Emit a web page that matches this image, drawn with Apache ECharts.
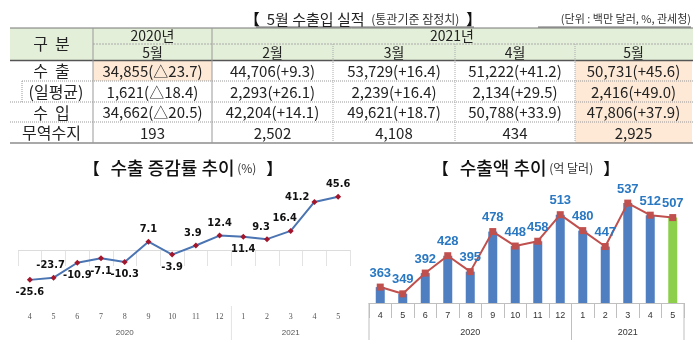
<!DOCTYPE html>
<html><head><meta charset="utf-8">
<script src="https://cdn.jsdelivr.net/npm/echarts@6/dist/echarts.min.js"></script>
<style>html,body{margin:0;padding:0;background:#fff}#c{width:698px;height:344px}</style>
</head><body><div id="c"></div>
<script>
// ---------- data ----------
const tableTitle = '5월 수출입 실적';
const tableSub = '(통관기준 잠정치)';
const unitText = '(단위 : 백만 달러, %, 관세청)';
const yearHeaders = ['2020년', '2021년'];
const monthHeaders = ['5월', '2월', '3월', '4월', '5월'];
const rowLabels = ['수  출', '(일평균)', '수  입', '무역수지'];
const exportRow = ['34,855(△23.7)', '44,706(+9.3)', '53,729(+16.4)', '51,222(+41.2)', '50,731(+45.6)'];
const dailyRow = ['1,621(△18.4)', '2,293(+26.1)', '2,239(+16.4)', '2,134(+29.5)', '2,416(+49.0)'];
const importRow = ['34,662(△20.5)', '42,204(+14.1)', '49,621(+18.7)', '50,788(+33.9)', '47,806(+37.9)'];
const balanceRow = ['193', '2,502', '4,108', '434', '2,925'];

const months = ['4', '5', '6', '7', '8', '9', '10', '11', '12', '1', '2', '3', '4', '5'];
const yearLabels = ['2020', '2021'];
const yearStart = [0, 9];           // first month index of each year
const growthRate = [-25.6, -23.7, -10.9, -7.1, -10.3, 7.1, -3.9, 3.9, 12.4, 11.4, 9.3, 16.4, 41.2, 45.6];
const exportAmount = [363, 349, 392, 428, 395, 478, 448, 458, 513, 480, 447, 537, 512, 507];

// label placement (style, not data)
const growthLabelPos = ['bottom','top','bottom','bottom','bottom','top','bottom','top','top','bottom','top','top','left','top'];
const growthLabelOff = [[0,0],[-3,0],[0,0],[0,0],[0,0],[0,0],[0,0],[-3,0],[0,0],[0,0],[-6,0],[-6,0],[2,-5],[0,0]];

// ---------- table graphics ----------
const KR = '"Noto Sans CJK KR", "Noto Sans", sans-serif';
const colX = [10, 93, 212, 333, 455, 575, 692];
const rowY = [60, 81, 102, 122, 143];
const g = [];
function rect(x, y, w, h, fill) { g.push({type:'rect', silent:true, shape:{x, y, width:w, height:h}, style:{fill}, z:1}); }
function line(x1, y1, x2, y2, stroke, lw, dash) { g.push({type:'line', silent:true, shape:{x1, y1, x2, y2}, style:{stroke, lineWidth:lw || 1, lineDash: dash || null}, z:3}); }
function text(x, y, t, size, opt) {
  opt = opt || {};
  g.push({type:'text', silent:true, x, y, z:4, style:Object.assign({text:t, font: (opt.weight||'normal') + ' ' + size + 'px ' + KR, fill: opt.fill || '#222', align: opt.align || 'center', verticalAlign:'middle'}, opt.style || {})});
}
rect(10, 28, 683, 32, '#e4efd9');
rect(colX[1], rowY[0], colX[2] - colX[1], rowY[1] - rowY[0], '#fde9d6');
rect(colX[5], rowY[0], colX[6] - colX[5], rowY[4] - rowY[0], '#fde9d6');
line(10, 28, 693, 28, '#777', 1);
line(colX[1], 44, 693, 44, '#aaa', 1, [2, 1]);
line(10, 60.5, 693, 60.5, '#555', 1.5);
line(22, 81, 693, 81, '#999', 1, [1, 1]);
line(10, 102, 693, 102, '#999', 1, [1, 1]);
line(10, 122, 693, 122, '#999', 1, [1, 1]);
line(10, 143, 693, 143, '#555', 1.2);
line(22, 81, 22, 102, '#999', 1, [1, 1]);
line(colX[1], 28, colX[1], 143, '#999', 1);
line(colX[2], 28, colX[2], 143, '#999', 1);
for (let i = 3; i <= 5; i++) line(colX[i], 44, colX[i], 143, '#aaa', 1, [1, 1]);

text((colX[0] + colX[1]) / 2, 44, '구  분', 16);
text((colX[1] + colX[2]) / 2, 36, yearHeaders[0], 14);
text((colX[2] + colX[6]) / 2, 36, yearHeaders[1], 14);
monthHeaders.forEach((m, i) => text((colX[i + 1] + colX[i + 2]) / 2, 52.5, m, 14));
const rowsData = [exportRow, dailyRow, importRow, balanceRow];
rowLabels.forEach((l, r) => {
  const cy = (rowY[r] + rowY[r + 1]) / 2 + 0.5;
  text(r === 1 ? 56 : (colX[0] + colX[1]) / 2, cy, l, 16);
  rowsData[r].forEach((v, c) => text((colX[c + 1] + colX[c + 2]) / 2, cy, v, 15));
});
// title
g.push({type:'text', silent:true, x:363, y:19, z:4, style:{
  text:'{b|【  }{m|' + tableTitle + '  }{s|' + tableSub + '}{b|  】}', align:'center', verticalAlign:'middle',
  rich:{b:{font:'bold 15px ' + KR, fill:'#111'}, m:{font:'15px ' + KR, fill:'#222'}, s:{font:'12px ' + KR, fill:'#333'}}}});
line(256, 27, 474, 27, '#444', 0.8);
text(691, 19, unitText, 11, {align:'right', fill:'#333'});
line(538, 27, 691, 27, '#444', 0.8);

// chart titles
function chartTitle(x, main, sub) {
  g.push({type:'text', silent:true, x, y:168, z:4, style:{
    text:'{b|【   }{m|' + main + '}{s| ' + sub + ' }{b|  】}', align:'center', verticalAlign:'middle',
    rich:{b:{font:'bold 16px ' + KR, fill:'#111'}, m:{font:'500 18px ' + KR, fill:'#111'}, s:{font:'12px ' + KR, fill:'#333'}}}});
}
chartTitle(183, '수출 증감률 추이', '(%)');
chartTitle(526, '수출액 추이', '(억 달러)');

// ---------- chart ----------
const chart = echarts.init(document.getElementById('c'));
const narrow = '"Liberation Sans Narrow", "DejaVu Sans Condensed", "Liberation Sans", sans-serif';
const option = {
  animation: false,
  grid: [
    {left: 18, right: 348, top: 191.7, bottom: 38},
    {left: 369, right: 14, top: 192, bottom: 41}
  ],
  xAxis: [
    {gridIndex: 0, type: 'category', data: months, boundaryGap: true,
      axisLine: {show: false}, axisTick: {show: true, interval: 0, length: 16, lineStyle: {color: '#e3e3e3'}},
      axisLabel: {interval: 0, fontSize: 8, color: '#555', margin: 7, fontFamily: '"Liberation Serif", serif'}},
    {gridIndex: 1, type: 'category', data: months, boundaryGap: true,
      axisLine: {show: true, lineStyle: {color: '#bfbfbf'}}, axisTick: {show: true, interval: 0, length: 15, lineStyle: {color: '#bfbfbf'}},
      axisLabel: {interval: 0, fontSize: 9, color: '#333', margin: 8, fontFamily: '"Liberation Sans", sans-serif'}}
  ],
  yAxis: [
    {gridIndex: 0, type: 'value', min: -48, max: 50, show: false},
    {gridIndex: 1, type: 'value', min: 330, max: 560, show: false}
  ],
  series: [
    {type: 'line', xAxisIndex: 0, yAxisIndex: 0,
      data: growthRate.map((v, i) => ({value: v, label: {position: growthLabelPos[i], offset: growthLabelOff[i]}})),
      lineStyle: {color: '#4a74b2', width: 2}, itemStyle: {color: '#a3152a'},
      symbol: 'diamond', symbolSize: 6, z: 5,
      label: {show: true, distance: 4, color: '#111', fontWeight: 'bold', fontSize: 11, fontFamily: narrow},
      markLine: {silent: true, symbol: 'none', label: {show: false}, lineStyle: {color: '#dcdcdc', type: 'solid', width: 1}, data: [{yAxis: 0}]}},
    {type: 'bar', xAxisIndex: 1, yAxisIndex: 1,
      data: exportAmount.map((v, i) => ({value: v, itemStyle: {color: i === exportAmount.length - 1 ? '#8dcf4a' : '#4f7fc0'}})),
      barWidth: 9, z: 2},
    {type: 'line', xAxisIndex: 1, yAxisIndex: 1, data: exportAmount,
      lineStyle: {color: '#c0504d', width: 2}, itemStyle: {color: '#c0504d'},
      symbol: 'rect', symbolSize: 7, z: 5,
      label: {show: true, position: 'top', distance: 4, color: '#2a78c2', fontWeight: 'bold', fontSize: 13, fontFamily: '"Liberation Sans", sans-serif'}}
  ],
  graphic: g
};
chart.setOption(option);

// axis decorations (year rows) placed from the axis scales
function yearDecor(gridIdx, yTop, yBot, yText, color, edges, fontSize, textColor) {
  const c0 = chart.convertToPixel({xAxisIndex: gridIdx}, 0);
  const cN = chart.convertToPixel({xAxisIndex: gridIdx}, months.length - 1);
  const bw = (cN - c0) / (months.length - 1);
  const edge = i => c0 + (i - 0.5) * bw;
  const out = [];
  yearLabels.forEach((y, k) => {
    const s = yearStart[k], e = k + 1 < yearStart.length ? yearStart[k + 1] : months.length;
    out.push({type:'text', silent:true, x:(edge(s) + edge(e)) / 2, y:yText, z:4,
      style:{text:y, font: fontSize + 'px "Liberation Sans", sans-serif', fill:textColor, align:'center', verticalAlign:'middle'}});
  });
  const bounds = edges ? [0].concat(yearStart.slice(1), [months.length]) : yearStart.slice(1);
  bounds.forEach(b => out.push({type:'line', silent:true, shape:{x1:edge(b), y1:yTop, x2:edge(b), y2:yBot}, style:{stroke:color, lineWidth:1}, z:3}));
  return out;
}
const extra = yearDecor(0, 306, 340, 333, '#e3e3e3', false, 8, '#555')
  .concat(yearDecor(1, 303, 340, 333, '#bfbfbf', true, 9, '#333'));
chart.setOption({graphic: g.concat(extra)});
</script></body></html>
